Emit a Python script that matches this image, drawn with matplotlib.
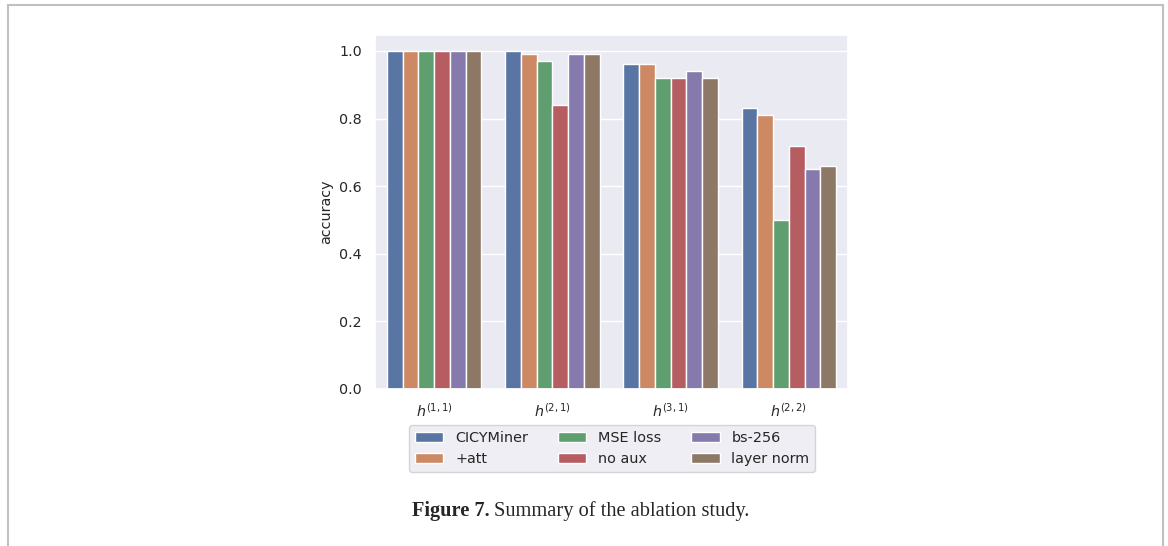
import numpy as np
import matplotlib
matplotlib.use("Agg")
import matplotlib.pyplot as plt
import seaborn as sns
from matplotlib.patches import Rectangle

categories = [r"$h^{(1,1)}$", r"$h^{(2,1)}$", r"$h^{(3,1)}$", r"$h^{(2,2)}$"]
series_names = ["CICYMiner", "+att", "MSE loss", "no aux", "bs-256", "layer norm"]
cicyminer = [1.00, 1.00, 0.96, 0.83]
att = [1.00, 0.99, 0.96, 0.81]
mse_loss = [1.00, 0.97, 0.92, 0.50]
no_aux = [1.00, 0.84, 0.92, 0.72]
bs_256 = [1.00, 0.99, 0.94, 0.65]
layer_norm = [1.00, 0.99, 0.92, 0.66]
series = [cicyminer, att, mse_loss, no_aux, bs_256, layer_norm]
yticks = [0.0, 0.2, 0.4, 0.6, 0.8, 1.0]

sns.set_theme(style="darkgrid")
colors = [sns.desaturate(c, 0.75) for c in sns.color_palette("deep", 6)]

W, H = 1168, 546
fig = plt.figure(figsize=(W / 100, H / 100), dpi=100)
ax = fig.add_axes([375 / W, 1 - 389 / H, (848 - 375) / W, (389 - 35) / H])

n = len(series)
group_w = 0.8
bw = group_w / n
x = np.arange(len(categories))
handles = []
for i, (name, vals) in enumerate(zip(series_names, series)):
    pos = x - group_w / 2 + bw * (i + 0.5)
    b = ax.bar(pos, vals, width=bw, color=colors[i], label=name,
               edgecolor="white", linewidth=1.0)
    handles.append(b)

ax.set_xlim(-0.5, len(categories) - 0.5)
ax.set_ylim(0, 1.047)
ax.set_yticks(yticks)
ax.set_yticklabels([f"{t:.1f}" for t in yticks], fontsize=10.3)
ax.set_xticks(x)
ax.set_xticklabels(categories, fontsize=10.3)
ax.set_ylabel("accuracy", fontsize=10.3)
ax.grid(axis="x", visible=False)

leg = fig.legend(handles=handles, labels=series_names, ncol=3,
                 loc="upper center", bbox_to_anchor=(612 / W, 1 - 418 / H),
                 fontsize=10.4, frameon=True, columnspacing=2.05)
leg.get_frame().set_facecolor("#EAEAF2")
leg.get_frame().set_edgecolor("#cccccc")

cap_y = 1 - 511 / H
t1 = fig.text(412 / W, cap_y, "Figure 7.", ha="left", va="center",
              fontsize=14.7, family="Liberation Serif", weight="bold")
fig.canvas.draw()
r = fig.canvas.get_renderer()
bb = t1.get_window_extent(renderer=r)
fig.text((bb.x1 + 4) / W, cap_y, "Summary of the ablation study.", ha="left",
         va="center", fontsize=14.7, family="Liberation Serif")

border = Rectangle((8 / W, -0.05), (1163 - 8) / W, (1 - 5 / H) + 0.05,
                   transform=fig.transFigure, fill=False, edgecolor="#c0c0c0",
                   linewidth=1.5, clip_on=False)
fig.patches.append(border)

fig.savefig("out.png", dpi=100)
